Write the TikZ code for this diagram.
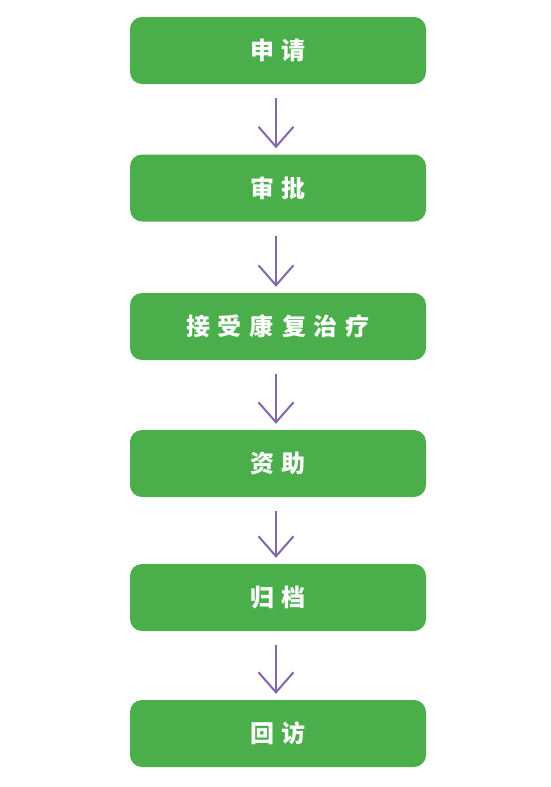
\documentclass[tikz,border=0pt]{standalone}
\usepackage{fontspec}
\newfontfamily\cjk{Noto Sans CJK SC}
\usetikzlibrary{arrows.meta}
\definecolor{boxgreen}{HTML}{4AAE4A}
\definecolor{arrowpurple}{HTML}{8366B0}
\newcommand{\gapch}{\hspace{8pt}}
\begin{document}
\begin{tikzpicture}[x=1pt,y=-1pt,
  stepbox/.style={draw=none,fill=boxgreen,rounded corners=12pt,minimum width=296pt,minimum height=67pt,inner sep=0pt,text=white,font=\cjk\bfseries\fontsize{24}{24}\selectfont},
  flow/.style={draw=arrowpurple,line width=2pt,-{Straight Barb[length=20pt,width=35pt,line width=2pt]}}]
\useasboundingbox (0,0) rectangle (550,787);
\node[stepbox] (a) at (278,50.5) {申\gapch 请};
\node[stepbox] (b) at (278,188) {审\gapch 批};
\node[stepbox] (c) at (278,326.5) {接\gapch 受\gapch 康\gapch 复\gapch 治\gapch 疗};
\node[stepbox] (d) at (278,463.5) {资\gapch 助};
\node[stepbox] (e) at (278,597.5) {归\gapch 档};
\node[stepbox] (f) at (278,733.5) {回\gapch 访};
\foreach \u/\v in {a/b,b/c,c/d,d/e,e/f}{
  \draw[flow] ([xshift=-2pt,yshift=-14pt]\u.south) -- ([xshift=-2pt,yshift=6pt]\v.north);
}
\end{tikzpicture}
\end{document}
